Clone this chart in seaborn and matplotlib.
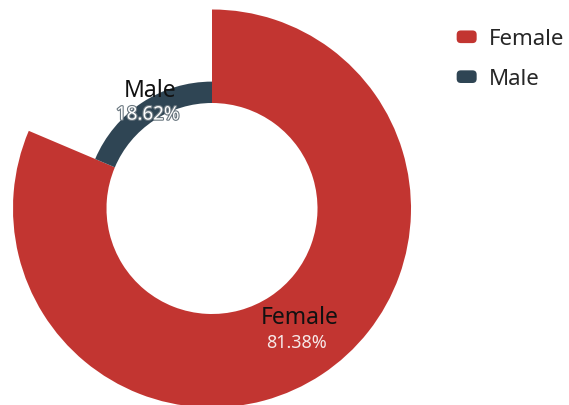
import numpy as np
import matplotlib
matplotlib.use("Agg")
import matplotlib.pyplot as plt
import matplotlib.patheffects as pe
from matplotlib.patches import Wedge, Patch, FancyBboxPatch
from matplotlib.legend_handler import HandlerPatch
import seaborn as sns

# Data
categories = ["Female", "Male"]
shares = [81.38, 18.62]
colors = ["#c23531", "#2f4554"]

sns.set_theme(style="white")
plt.rcParams["font.family"] = ["Noto Sans", "DejaVu Sans"]

W, H, DPI = 569, 405, 100
fig = plt.figure(figsize=(W / DPI, H / DPI), dpi=DPI)
ax = fig.add_axes([0, 0, 1, 1])
ax.set_xlim(-212, W - 212)
ax.set_ylim(-(H - 208.5), 208.5)
ax.set_aspect("equal")
ax.axis("off")

# Rose-style donut: outer radius scales with the value
r_inner, r_outer = 105.5, 199.0
vmax = max(shares)
total = sum(shares)
start = 90.0
for name, val, col in zip(categories, shares, colors):
    sweep = 360.0 * val / total
    r = r_inner + (r_outer - r_inner) * val / vmax
    # Female runs clockwise from 12 o'clock; Male fills the remaining arc
    if name == categories[0]:
        t1, t2 = start - sweep, start
    else:
        t1, t2 = start, start + sweep
    ax.add_patch(Wedge((0, 0), r, t1, t2, width=r - r_inner,
                       facecolor=col, edgecolor="none"))
    mid = np.deg2rad((t1 + t2) / 2)
    rm = (r + r_inner) / 2
    cx, cy = rm * np.cos(mid), rm * np.sin(mid)
    big = name == categories[0]
    ax.text(cx + (4 if big else 2), cy + (5 if big else 9), name, ha="center", va="bottom",
            fontsize=16.5, color="#111111")
    t = ax.text(cx, cy + (1 if big else 6), f"{val:.2f}%", ha="center", va="top",
                fontsize=13 if big else 13.5, color="#f6e8e8" if big else "white")
    if not big:
        t.set_path_effects([pe.withStroke(linewidth=1.6, foreground="#6a7780")])


class RoundedHandler(HandlerPatch):
    def create_artists(self, legend, orig_handle, xdescent, ydescent,
                       width, height, fontsize, trans):
        p = FancyBboxPatch((-xdescent, -ydescent), width, height,
                           boxstyle="round,pad=0,rounding_size=3",
                           facecolor=orig_handle.get_facecolor(),
                           edgecolor="none", transform=trans)
        return [p]


handles = [Patch(facecolor=c, label=n) for n, c in zip(categories, colors)]
fig.legend(handles=handles, loc="upper left", bbox_to_anchor=(450 / W, 1 - 22 / H),
           frameon=False, fontsize=16, handlelength=0.9, handleheight=0.5,
           handletextpad=0.55, labelspacing=0.85, borderaxespad=0, borderpad=0.3,
           handler_map={Patch: RoundedHandler()})

fig.savefig("out.png", dpi=DPI, facecolor="white")
